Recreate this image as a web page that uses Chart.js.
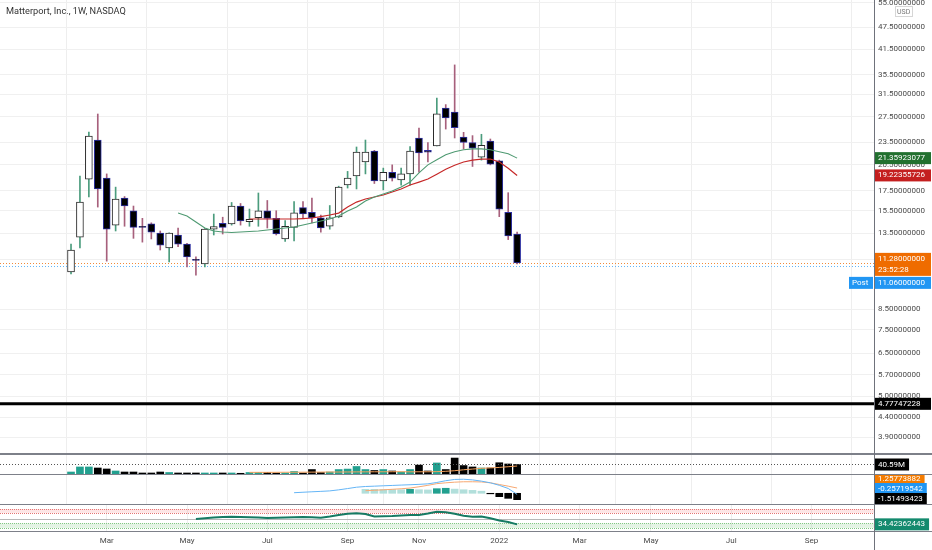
<!DOCTYPE html>
<html>
<head>
<meta charset="utf-8">
<script src="https://cdn.jsdelivr.net/npm/chart.js@4.4.0/dist/chart.umd.min.js"></script>
<style>
  body {margin: 0; background: #fff; width: 932px; height: 550px; overflow: hidden; position: relative; font-family: Roboto, sans-serif;}
  canvas {position: absolute; left: 0;}
  .sep {position: absolute; left: 0; width: 932px; height: 2px; background: #7d8089;}
  .vaxis {position: absolute; left: 874px; top: 0; width: 1px; height: 550px; background: #6f727b;}
  #title {position: absolute; left: 6px; top: 5px; font-size: 9.2px; color: #333;}
</style>
</head>
<body>

<canvas id="priceChart" width="932" height="453" style="top:0"></canvas>
<canvas id="volumeChart" width="932" height="19" style="top:455px"></canvas>
<canvas id="macdChart" width="932" height="29" style="top:475px"></canvas>
<canvas id="rsiChart" width="932" height="45" style="top:505px"></canvas>
<div class="sep" style="top:453px"></div>
<div class="sep" style="top:474px;height:1px"></div>
<div class="sep" style="top:504px;height:1px"></div>
<div class="sep" style="top:531px;height:1px"></div>
<div class="vaxis"></div>
<div id="title">Matterport, Inc., 1W, NASDAQ</div>

<script>

// Weekly bars (index 0 = week of 1 Feb 2021)
const weeks = [
  '2021-02-01', '2021-02-08', '2021-02-15', '2021-02-22', '2021-03-01', '2021-03-08', '2021-03-15', '2021-03-22', '2021-03-29',
  '2021-04-05', '2021-04-12', '2021-04-19', '2021-04-26', '2021-05-03', '2021-05-10', '2021-05-17', '2021-05-24', '2021-05-31',
  '2021-06-07', '2021-06-14', '2021-06-21', '2021-06-28', '2021-07-05', '2021-07-12', '2021-07-19', '2021-07-26', '2021-08-02',
  '2021-08-09', '2021-08-16', '2021-08-23', '2021-08-30', '2021-09-06', '2021-09-13', '2021-09-20', '2021-09-27', '2021-10-04',
  '2021-10-11', '2021-10-18', '2021-10-25', '2021-11-01', '2021-11-08', '2021-11-15', '2021-11-22', '2021-11-29', '2021-12-06',
  '2021-12-13', '2021-12-20', '2021-12-27', '2022-01-03', '2022-01-10', '2022-01-17'
];

// Time axis labels (week index of first bar of month)
const monthIdx = [4, 13, 22, 31, 39, 48, 57, 65, 74, 83];
const monthLabels = ['Mar', 'May', 'Jul', 'Sep', 'Nov', '2022', 'Mar', 'May', 'Jul', 'Sep'];

// OHLC
const opens  = [10.67, 13.2, 18.8, 23.85, 18.9, 14.2, 16.75, 15.5, 14.05, 14.3, 13.53, 12.35, 13.37, 12.65, 11.5, 11.2, 13.86, 14.35, 14.3, 15.95, 14.5, 14.85, 15.5, 14.8, 13.05, 14.0, 15.8, 15.35, 14.85, 14.1, 14.92, 18.13, 19.15, 20.86, 22.3, 18.58, 19.6, 18.7, 19.4, 24.15, 22.4, 23.0, 29.0, 28.3, 24.3, 23.5, 21.5, 23.7, 21.0, 15.35, 13.45];
const highs  = [12.65, 19.15, 25.05, 27.95, 19.4, 17.9, 16.9, 15.95, 14.8, 14.4, 13.7, 13.55, 13.95, 12.7, 11.7, 13.9, 15.19, 14.9, 16.3, 16.2, 15.66, 17.27, 16.5, 15.5, 14.6, 16.4, 16.4, 16.75, 15.1, 16.0, 18.0, 19.7, 22.86, 23.85, 22.4, 20.1, 20.5, 20.1, 22.9, 25.67, 23.5, 30.8, 29.6, 37.7, 25.0, 24.5, 24.7, 24.0, 21.1, 17.3, 13.6];
const lows   = [10.55, 12.35, 16.85, 15.85, 11.4, 13.7, 14.1, 13.1, 12.8, 13.05, 12.2, 11.34, 12.45, 11.0, 10.47, 11.0, 13.37, 13.45, 14.2, 14.2, 14.1, 14.1, 13.95, 13.37, 12.85, 12.9, 14.85, 14.4, 13.6, 13.85, 14.85, 17.8, 17.7, 19.4, 18.3, 17.6, 18.58, 18.1, 18.1, 19.6, 20.86, 23.0, 25.5, 24.15, 22.6, 20.3, 21.1, 20.5, 14.95, 13.0, 11.2];
const closes = [12.2, 16.35, 24.45, 17.7, 13.86, 16.65, 15.95, 14.0, 14.0, 13.6, 12.57, 13.53, 12.65, 11.69, 11.45, 13.86, 14.08, 14.0, 15.95, 14.56, 14.7, 15.5, 14.8, 13.45, 14.1, 15.3, 15.2, 14.85, 13.95, 14.85, 17.9, 18.9, 22.17, 22.17, 18.58, 19.6, 18.9, 19.4, 22.3, 22.05, 22.15, 28.0, 27.3, 25.7, 23.5, 22.7, 23.1, 20.6, 15.66, 13.3, 11.28];

// Moving averages on price (first value index, values)
const fastMaStart = 12;
const fastMa = [15.28, 15.01, 14.47, 13.95, 13.70, 13.62, 13.58, 13.62, 13.66, 13.70, 13.78, 13.87, 13.95, 14.04, 14.21, 14.38, 14.56, 14.74, 15.01, 15.47, 15.85, 16.45, 16.85, 17.16, 17.48, 17.91, 18.46, 19.53, 20.5, 21.15, 21.8, 22.2, 22.47, 22.6, 22.6, 22.47, 22.2, 21.93, 21.35923077];
const slowMaStart = 20;
const slowMa = [14.74, 14.74, 14.74, 14.74, 14.74, 14.74, 14.78, 14.83, 14.96, 15.1, 15.28, 15.85, 16.34, 16.65, 16.85, 17.06, 17.38, 17.7, 18.13, 18.46, 18.8, 19.37, 19.96, 20.46, 20.86, 21.11, 21.24, 21.24, 20.86, 20.09, 19.22355726];

// Price levels
const lastPrice = 11.28;
const postPrice = 11.06;
const levelPrice = 4.77747228;
const countdown = '23:52:28';
const priceTicks = [55, 47.5, 41.5, 35.5, 31.5, 27.5, 23.5, 20.5, 17.5, 15.5, 13.5, 11.5, 8.5, 7.5, 6.5, 5.7, 5.0, 4.4, 3.9];

// Volume (millions)
const volumes = [8.5, 30, 30, 25.6, 21.4, 12.8, 8.5, 8.5, 4.3, 4.3, 8.5, 6.4, 4.3, 4.3, 4.3, 4.3, 4.3, 4.3, 4.3, 3, 6.4, 6.4, 6.4, 4.3, 4.3, 10.7, 4.3, 19, 6.4, 8.5, 19, 21, 32, 19, 15, 19, 12.8, 8.5, 19, 38, 12.8, 47, 19, 68, 36, 30, 25.6, 25.6, 48, 42.7, 40.59];
const volumeMaStart = 20;
const volumeMa = [7, 7, 7, 7.2, 7.4, 7.5, 7.7, 8, 8.2, 8.4, 8.5, 8.7, 9, 9.2, 9.4, 9.5, 9.6, 9.8, 9.2, 9.4, 9.5, 10, 11.5, 14, 18, 21, 24, 26, 28, 31, 34];

// MACD
const macdStart = 25;
const macdLine = [0.14, 0.25, 0.36, 0.46, 0.57, 0.82, 1.13, 1.45, 1.62, 1.7, 1.79, 1.87, 1.96, 2.04, 2.13, 2.25, 2.58, 3.0, 3.3, 3.35, 3.2, 2.9, 2.5, 1.9, 1.15, -0.25719542];
const signalStart = 33;
const signalLine = [0.62, 0.72, 0.83, 0.95, 1.08, 1.25, 1.55, 1.9, 2.3, 2.5, 2.65, 2.75, 2.75, 2.7, 2.5, 2.1, 1.7, 1.25773882];
const histStart = 33;
const histogram = [0.95, 0.95, 0.9, 0.9, 0.85, 0.95, 0.85, 0.8, 1.1, 1.2, 1.0, 0.85, 0.7, 0.5, -0.12, -0.8, -1.2, -1.51493423];

// RSI
const rsiStart = 14;
const rsi = [48.7, 50.5, 52.7, 54, 54.8, 54, 53.2, 52.4, 51.3, 51.9, 52.7, 53.5, 54, 53.2, 52.1, 55.3, 59.3, 62.8, 63.9, 62, 55.3, 55.9, 56.7, 58.3, 59.3, 59.3, 63.3, 68.1, 66.8, 62.5, 57.5, 54.8, 55.3, 50.5, 44.7, 40.7, 34.42362443];
const rsiUpperBand = [65, 75];
const rsiLowerBand = [25, 37];
const rsiMid = 50;


// Colours
const upWick = '#4b9c7d', downWick = '#a7607c';
const teal = '#22a08f', paleTeal = '#b2dfdb';
const tickFont = {family: 'Roboto', size: 8};

Chart.defaults.font.family = 'Roboto';
Chart.defaults.animation = false;


// Shared time axis
function timeAxis(showLabels) {
  return {
    type: 'linear', min: -7.96, max: 90, offset: false,
    afterBuildTicks: s => { s.ticks = monthIdx.map(v => ({value: v})); },
    grid: {color: '#eeeeee', drawTicks: false},
    border: {display: false},
    ticks: showLabels ? {autoSkip: false, maxRotation: 0, padding: 5, color: '#4a4a4a', font: tickFont, callback: (v, i) => monthLabels[i]} : {display: false},
    afterFit: s => { s.height = showLabels ? 19 : 0; s.paddingLeft = 0; s.paddingRight = 0; }
  };
}

// Right-hand axis of fixed width, no label overhang padding
function rightAxis(extra) {
  return Object.assign({
    position: 'right',
    afterFit: s => { s.width = 58; s.paddingTop = 0; s.paddingBottom = 0; },
    border: {display: false},
    grid: {display: false},
    ticks: {display: false}
  }, extra);
}

// Common options
function baseOptions(scales) {
  return {
    responsive: false, devicePixelRatio: 1, animation: false,
    layout: {padding: 0, autoPadding: false},
    plugins: {legend: {display: false}, tooltip: {enabled: false}},
    scales: scales
  };
}

// Indexed series helper
function series(values, start) {
  return values.map((v, i) => ({x: i + start, y: v}));
}

// Axis tag (coloured box with value)
function tag(ctx, y, lines, bg, x, w) {
  ctx.save();
  ctx.font = '8px Roboto';
  const h = 11 * lines.length + 1;
  const width = w || (Math.max(...lines.map(l => ctx.measureText(l).width)) + 7);
  ctx.fillStyle = bg;
  ctx.fillRect(x, y, width, h);
  ctx.fillStyle = '#fff';
  ctx.textBaseline = 'middle';
  lines.forEach((l, i) => ctx.fillText(l, x + 3, y + 6 + i * 11));
  ctx.restore();
  return y + h;
}

function hline(ctx, area, y, color, width, dash) {
  ctx.save();
  ctx.strokeStyle = color;
  ctx.lineWidth = width;
  ctx.setLineDash(dash || []);
  ctx.beginPath();
  ctx.moveTo(area.left, y);
  ctx.lineTo(area.right, y);
  ctx.stroke();
  ctx.restore();
}


// Price pane
const isUp = closes.map((c, i) => c >= opens[i]);

const pricePlugin = {
  id: 'priceMarks',
  beforeDatasetsDraw(chart) {
    const y = chart.scales.y, ctx = chart.ctx, a = chart.chartArea;
    hline(ctx, a, Math.round(y.getPixelForValue(lastPrice)) + 0.5, '#f08a3a', 1, [1, 2]);
    hline(ctx, a, Math.round(y.getPixelForValue(postPrice)) + 0.5, '#64b5f6', 1, [1, 2]);
  },
  afterDatasetsDraw(chart) {
    const y = chart.scales.y;
    hline(chart.ctx, chart.chartArea, y.getPixelForValue(levelPrice), '#000', 3);
  },
  afterDraw(chart) {
    const y = chart.scales.y, ctx = chart.ctx, x = 875;
    tag(ctx, y.getPixelForValue(fastMa[fastMa.length - 1]) - 6, [fastMa[fastMa.length - 1].toFixed(8)], '#22702f', x, 56);
    tag(ctx, y.getPixelForValue(slowMa[slowMa.length - 1]) - 6, [slowMa[slowMa.length - 1].toFixed(8)], '#c41f1f', x, 56);
    const bottom = tag(ctx, y.getPixelForValue(lastPrice) - 10, [lastPrice.toFixed(8), countdown], '#ef6c00', x, 56);
    tag(ctx, bottom + 1, [postPrice.toFixed(8)], '#2196f3', x, 56);
    tag(ctx, bottom + 1, ['Post'], '#2196f3', 849, 24);
    tag(ctx, y.getPixelForValue(levelPrice) - 6, [levelPrice.toFixed(8)], '#000', x, 56);
    // Currency
    ctx.save();
    ctx.fillStyle = '#fff';
    ctx.fillRect(895, 6, 18, 10);
    ctx.strokeStyle = '#d6d6d6';
    ctx.strokeRect(895.5, 6.5, 17, 10);
    ctx.fillStyle = '#777';
    ctx.font = '7px Roboto';
    ctx.textBaseline = 'middle';
    ctx.fillText('USD', 897, 12);
    ctx.restore();
  }
};

new Chart(document.getElementById('priceChart'), {
  type: 'bar',
  data: {
    datasets: [
      {
        data: highs.map((h, i) => ({x: i, y: [lows[i], h]})),
        backgroundColor: isUp.map(u => u ? upWick : downWick),
        barThickness: 1, grouped: false, order: 3
      },
      {
        data: opens.map((o, i) => ({x: i, y: [o, closes[i]]})),
        backgroundColor: isUp.map(u => u ? '#ffffff' : '#000000'),
        borderColor: isUp.map(u => u ? '#2a2a2a' : '#2c2fa0'),
        borderWidth: 1, borderSkipped: false, minBarLength: 1,
        barThickness: 7, grouped: false, order: 2
      },
      {
        type: 'line', data: series(fastMa, fastMaStart),
        borderColor: '#4f9a72', borderWidth: 1.1, pointRadius: 0, order: 1
      },
      {
        type: 'line', data: series(slowMa, slowMaStart),
        borderColor: '#c62828', borderWidth: 1.2, pointRadius: 0, order: 1
      }
    ]
  },
  options: baseOptions({
    x: timeAxis(false),
    y: rightAxis({
      type: 'logarithmic', min: 3.54, max: 56,
      afterBuildTicks: s => { s.ticks = priceTicks.map(v => ({value: v})); },
      grid: {display: true, color: '#f0f0f0', drawTicks: false},
      ticks: {display: true, autoSkip: false, padding: 4, color: '#4a4a4a', font: tickFont, callback: v => Number(v).toFixed(8)}
    })
  }),
  plugins: [pricePlugin]
});


// Volume pane
const volumePlugin = {
  id: 'volumeMarks',
  afterDraw(chart) {
    const y = chart.scales.y, last = volumes[volumes.length - 1];
    const py = Math.round(y.getPixelForValue(last)) + 0.5;
    hline(chart.ctx, chart.chartArea, py, '#555', 1, [1, 2]);
    tag(chart.ctx, py - 6, [last.toFixed(2) + 'M'], '#000', 875);
  }
};

new Chart(document.getElementById('volumeChart'), {
  type: 'bar',
  data: {
    datasets: [
      {
        data: series(volumes, 0),
        backgroundColor: isUp.map(u => u ? teal : '#000000'),
        barThickness: 7, grouped: false, order: 2
      },
      {
        type: 'line', data: series(volumeMa, volumeMaStart),
        borderColor: '#f5a25d', borderWidth: 1, pointRadius: 0, order: 1
      }
    ]
  },
  options: baseOptions({
    x: timeAxis(false),
    y: rightAxis({min: 0, max: 81})
  }),
  plugins: [volumePlugin]
});


// MACD pane
const histColors = histogram.map((v, i) => {
  const prev = i > 0 ? histogram[i - 1] : v;
  if (v < 0) return '#000000';
  return v > prev ? teal : paleTeal;
});

const macdPlugin = {
  id: 'macdMarks',
  afterDraw(chart) {
    const y = chart.scales.y, ctx = chart.ctx;
    const tags = [
      [signalLine[signalLine.length - 1], '#f57c00'],
      [macdLine[macdLine.length - 1], '#2196f3'],
      [histogram[histogram.length - 1], '#000']
    ];
    // Stack tags upwards from the pane bottom
    let limit = chart.chartArea.bottom - 11;
    const ys = [];
    for (let i = tags.length - 1; i >= 0; i--) {
      const ty = Math.min(y.getPixelForValue(tags[i][0]) - 5, limit);
      ys[i] = ty;
      limit = ty - 10;
    }
    tags.forEach((t, i) => tag(ctx, ys[i], [t[0].toFixed(8)], t[1], 875));
  }
};

new Chart(document.getElementById('macdChart'), {
  type: 'bar',
  data: {
    datasets: [
      {
        data: series(histogram, histStart),
        backgroundColor: histColors,
        barThickness: 7, grouped: false, order: 2
      },
      {
        type: 'line', data: series(macdLine, macdStart),
        borderColor: '#64b5f6', borderWidth: 1, pointRadius: 0, order: 1
      },
      {
        type: 'line', data: series(signalLine, signalStart),
        borderColor: '#f7a872', borderWidth: 1, pointRadius: 0, order: 1
      }
    ]
  },
  options: baseOptions({
    x: timeAxis(false),
    y: rightAxis({min: -2.55, max: 4.36})
  }),
  plugins: [macdPlugin]
});


// RSI pane
const rsiPlugin = {
  id: 'rsiBands',
  beforeDatasetsDraw(chart) {
    const y = chart.scales.y, ctx = chart.ctx, a = chart.chartArea;
    const band = (lvls, fill, line) => {
      const y0 = y.getPixelForValue(lvls[1]), y1 = y.getPixelForValue(lvls[0]);
      ctx.fillStyle = fill;
      ctx.fillRect(a.left, y0, a.right - a.left, y1 - y0);
      hline(ctx, a, Math.round(y0) + 0.5, line, 1, [1, 1]);
      hline(ctx, a, Math.round(y1) + 0.5, line, 1, [1, 1]);
    };
    band(rsiUpperBand, 'rgba(239, 83, 80, 0.15)', '#e57373');
    band(rsiLowerBand, 'rgba(102, 187, 106, 0.18)', '#81c784');
    hline(ctx, a, Math.round(y.getPixelForValue(rsiMid)) + 0.5, '#b8b8b8', 1);
  },
  afterDraw(chart) {
    const y = chart.scales.y, last = rsi[rsi.length - 1];
    tag(chart.ctx, y.getPixelForValue(last) - 6, [last.toFixed(8)], '#148a6e', 875);
  }
};

new Chart(document.getElementById('rsiChart'), {
  type: 'line',
  data: {
    datasets: [
      {
        data: series(rsi, rsiStart),
        borderColor: '#167a63', borderWidth: 2, pointRadius: 0
      }
    ]
  },
  options: baseOptions({
    x: timeAxis(true),
    y: rightAxis({min: 16.7, max: 86})
  }),
  plugins: [rsiPlugin]
});

</script>
</body>
</html>
